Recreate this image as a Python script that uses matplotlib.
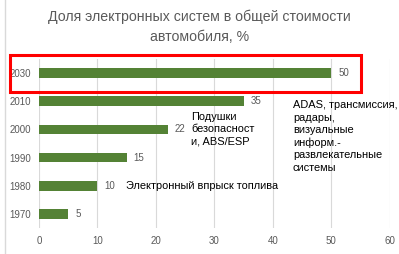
import matplotlib
matplotlib.use('Agg')
import matplotlib.pyplot as plt
from matplotlib.patches import Rectangle
from matplotlib.lines import Line2D

years = ['1970', '1980', '1990', '2000', '2010', '2030']
shares = [5, 10, 15, 22, 35, 50]
title_text = 'Доля электронных систем в общей стоимости\nавтомобиля, %'
notes = [
    (14.9, 1.0, 'Электронный впрыск топлива'),
    (26.0, 3.0, 'Подушки\nбезопасност\nи, ABS/ESP'),
    (43.4, 2.75, 'ADAS, трансмиссия,\nрадары,\nвизуальные\nинформ.-\nразвлекательные\nсистемы'),
]

narrow = ['Liberation Sans Narrow', 'Liberation Sans', 'DejaVu Sans']
plt.rcParams['font.family'] = ['Liberation Sans', 'DejaVu Sans']

fig = plt.figure(figsize=(3.99, 2.54), dpi=100)
ax = fig.add_axes([0.0977, 0.102, 0.8795, 0.666])

pos = range(len(years))
ax.barh(pos, shares, height=0.34, color='#548235', zorder=3)
for p, v in zip(pos, shares):
    ax.text(v + 1.2, p, str(v), va='center', ha='left', fontsize=7,
            color='#595959', family=narrow)

ax.set_xlim(0, 60)
ax.set_ylim(-0.5, 5.5)
ax.set_xticks(range(0, 61, 10))
ax.set_yticks(list(pos))
ax.set_yticklabels(years)
ax.tick_params(length=0, labelsize=7, colors='#595959', pad=6)
for lab in ax.get_xticklabels() + ax.get_yticklabels():
    lab.set_family(narrow)
ax.grid(axis='x', color='#d9d9d9', linewidth=0.8, zorder=0)
for s in ax.spines.values():
    s.set_visible(False)

for x, y, t in notes:
    ax.text(x, y, t, fontsize=7.9, color='black', va='center', ha='left',
            linespacing=1.3)

fig.text(0.5, 0.893, title_text, ha='center', va='center', fontsize=10.2,
         color='#595959', linespacing=1.55)

fig.add_artist(Rectangle((10 / 399, 1 - 92 / 254), 351 / 399, 37 / 254,
                         transform=fig.transFigure, fill=False,
                         edgecolor='#ff0000', linewidth=2.2))
fig.add_artist(Line2D([5 / 399, 5 / 399], [0, 1], transform=fig.transFigure,
                      color='#d9d9d9', linewidth=1))

fig.savefig('out.png', dpi=100)
